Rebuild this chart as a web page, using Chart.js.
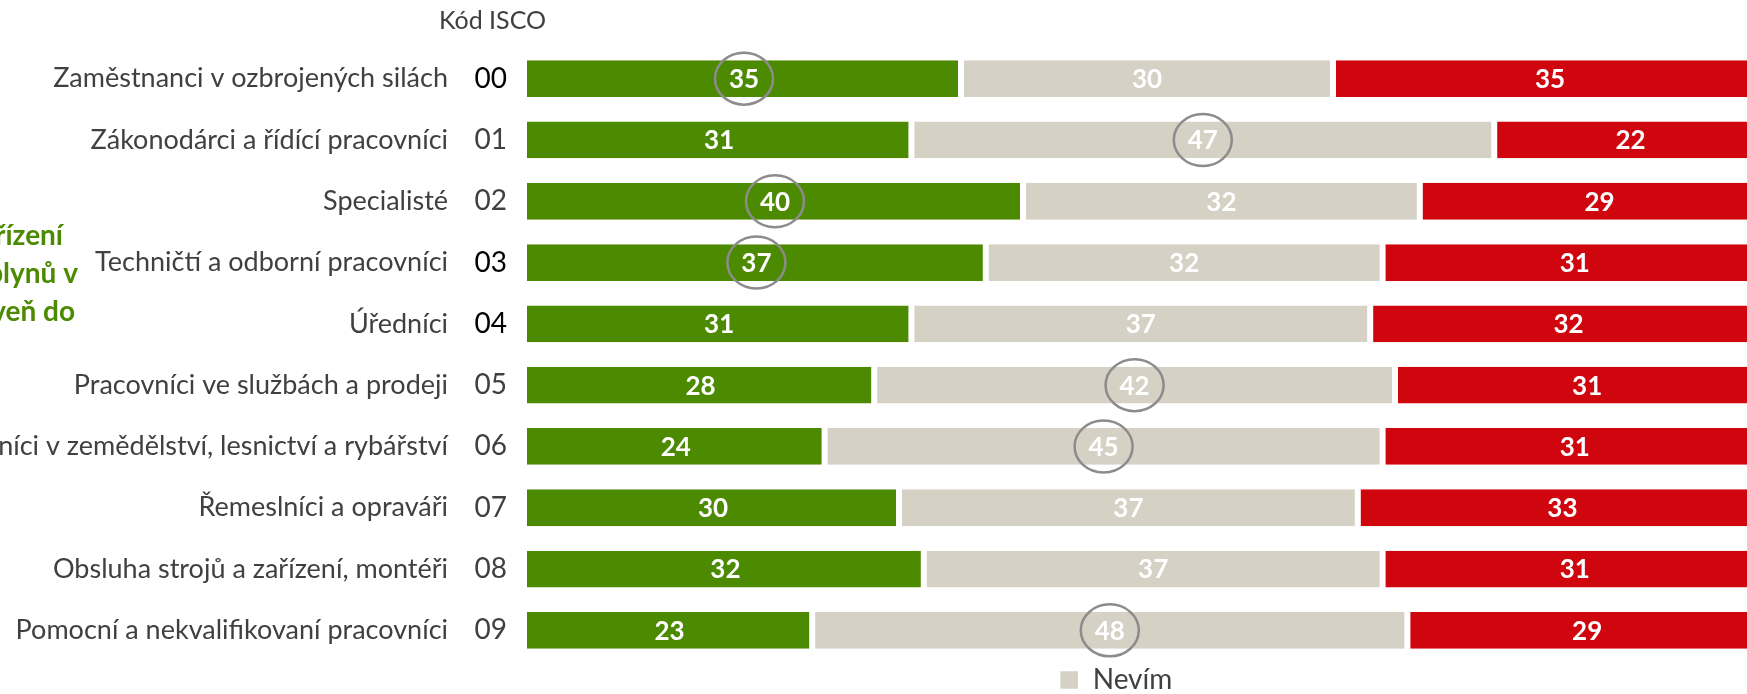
<!DOCTYPE html>
<html lang="cs">
<head>
<meta charset="utf-8">
<script src="https://cdn.jsdelivr.net/npm/chart.js@4.4.1/dist/chart.umd.min.js"></script>
<style>
  html, body { margin: 0; padding: 0; background: #fff; overflow: hidden; width: 1747px; height: 694px; }
  canvas { position: absolute; left: 0; top: 0; }
</style>
</head>
<body>
<canvas id="graf" width="1767" height="704"></canvas>
<script>
// data
const profese = [
  "Zaměstnanci v ozbrojených silách",
  "Zákonodárci a řídící pracovníci",
  "Specialisté",
  "Techničtí a odborní pracovníci",
  "Úředníci",
  "Pracovníci ve službách a prodeji",
  "Kvalifikovaní pracovníci v zemědělství, lesnictví a rybářství",
  "Řemeslníci a opraváři",
  "Obsluha strojů a zařízení, montéři",
  "Pomocní a nekvalifikovaní pracovníci"
];
const kodyIsco = ["00", "01", "02", "03", "04", "05", "06", "07", "08", "09"];
const ano = [35, 31, 40, 37, 31, 28, 24, 30, 32, 23];
const nevim = [30, 47, 32, 32, 37, 42, 45, 37, 37, 48];
const ne = [35, 22, 29, 31, 32, 31, 31, 33, 31, 29];
// ktera rada je v danem radku zakrouzkovana (-1 = zadna)
const zakrouzkovano = [0, 1, 0, 0, -1, 1, 1, -1, -1, 1];
const tmaveKody = [0, 3, 4];
const nadpisVlevo = ["zařízení", "plynů v", "úroveň do"];

const ZELENA = "#4c8a02";
const SEDA = "#d5d1c5";
const CERVENA = "#d0060e";
const TEXT = "#404040";

// popisky hodnot, krouzky a texty okolo
const popisky = {
  id: "popisky",
  afterLayout(chart) {
    // posun legendy pod prostredni sloupec
    chart.legend.left -= 31;
    chart.legend.right -= 31;
  },
  afterDatasetsDraw(chart) {
    const ctx = chart.ctx;
    ctx.save();
    ctx.textAlign = "center";
    ctx.textBaseline = "middle";
    chart.data.datasets.forEach((ds, d) => {
      chart.getDatasetMeta(d).data.forEach((bar, i) => {
        const x = (bar.x + bar.base) / 2;
        ctx.font = "bold 26px Lato";
        ctx.fillStyle = "#fff";
        ctx.fillText(ds.data[i], x, bar.y + 1);
        if (zakrouzkovano[i] === d) {
          ctx.beginPath();
          ctx.ellipse(x, bar.y, 29, 26, 0, 0, Math.PI * 2);
          ctx.strokeStyle = "#8c8c8c";
          ctx.lineWidth = 2.5;
          ctx.stroke();
        }
      });
    });

    ctx.font = "25px Lato";
    ctx.fillStyle = TEXT;
    ctx.textAlign = "right";
    ctx.fillText("Kód ISCO", chart.chartArea.left + 19, 21);

    // orezany nadpis vlevo
    ctx.font = "bold 28px Lato";
    ctx.fillStyle = ZELENA;
    ctx.textBaseline = "alphabetic";
    const praveOkraje = [63, 78, 75];
    nadpisVlevo.forEach((t, i) => {
      ctx.fillText(t, praveOkraje[i], 245 + i * 38);
    });
    ctx.restore();
  }
};

new Chart(document.getElementById("graf"), {
  type: "bar",
  data: {
    labels: profese,
    datasets: [
      { label: "Ano", data: ano, backgroundColor: ZELENA, borderColor: "#fff",
        borderWidth: { left: 0, right: 3, top: 0, bottom: 0 }, borderSkipped: false },
      { label: "Nevím", data: nevim, backgroundColor: SEDA, borderColor: "#fff",
        borderWidth: { left: 3, right: 3, top: 0, bottom: 0 }, borderSkipped: false },
      { label: "Ne", data: ne, backgroundColor: CERVENA, borderColor: "#fff",
        borderWidth: { left: 3, right: 3, top: 0, bottom: 0 }, borderSkipped: false }
    ]
  },
  options: {
    indexAxis: "y",
    responsive: false,
    animation: false,
    barPercentage: 0.6,
    categoryPercentage: 1,
    layout: { padding: { top: 48, left: 0, right: 0, bottom: 0 } },
    scales: {
      x: { stacked: true, min: 0, max: 100, display: false },
      y: {
        stacked: true,
        weight: 1,
        grid: { display: false, drawTicks: false },
        border: { display: false },
        ticks: { font: { family: "Lato", size: 27 }, color: TEXT, padding: 19, autoSkip: false },
        afterFit(s) { s.width = 467; }
      },
      yKod: {
        type: "category",
        labels: kodyIsco,
        position: "left",
        offset: true,
        weight: 0,
        grid: { display: false, drawTicks: false },
        border: { display: false },
        ticks: {
          font: { family: "Lato", size: 28 },
          color: (c) => tmaveKody.includes(c.index) ? "#000" : TEXT,
          padding: 20,
          autoSkip: false
        },
        afterFit(s) { s.width = 60; }
      }
    },
    plugins: {
      legend: {
        position: "bottom",
        fullSize: false,
        labels: {
          font: { family: "Lato", size: 28 },
          color: TEXT,
          boxWidth: 19,
          boxHeight: 19,
          padding: 5,
          filter: (item) => item.text === "Nevím"
        }
      },
      tooltip: { enabled: false }
    }
  },
  plugins: [popisky]
});
</script>
</body>
</html>
